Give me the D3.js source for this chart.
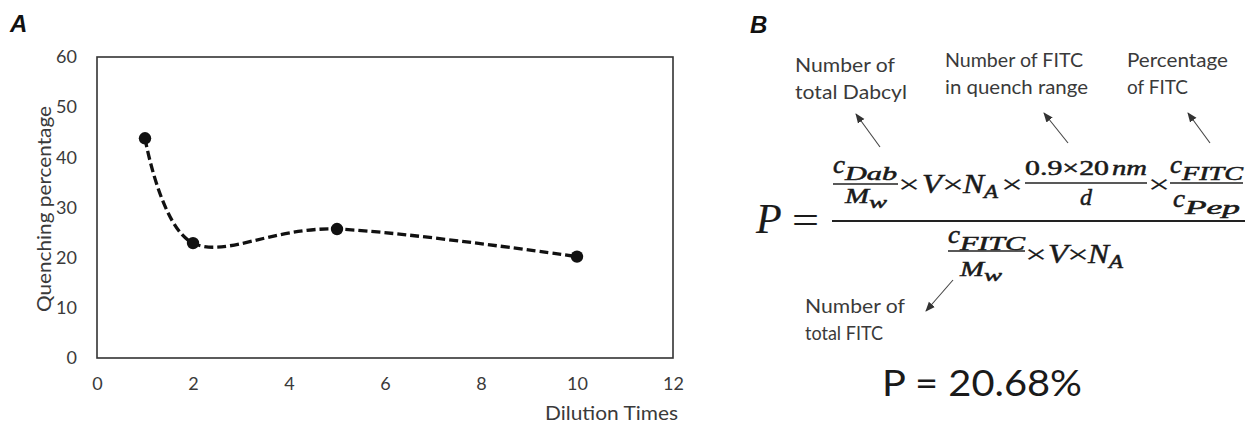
<!DOCTYPE html>
<html>
<head>
<meta charset="utf-8">
<script src="https://cdn.jsdelivr.net/npm/d3@7"></script>
<style>
  html, body { margin: 0; padding: 0; background: #fff; }
  svg { display: block; }
</style>
</head>
<body>
<svg id="chart" width="1253" height="429"></svg>
<script>
// ---- data ----
const dilutionTimes = [1, 2, 5, 10];
const quenchingPct = [43.8, 22.9, 25.7, 20.2];
const xTicks = [0, 2, 4, 6, 8, 10, 12];
const yTicks = [0, 10, 20, 30, 40, 50, 60];
const xTitle = "Dilution Times";
const yTitle = "Quenching percentage";
const resultText = "P = 20.68%";

const svg = d3.select("#chart");
const sansFont = "Lato, 'Open Sans', sans-serif";
const mathFont = "'Liberation Serif', 'DejaVu Serif', serif";
const textColor = "#3a3a3a";

// ---- panel A ----
const x = d3.scaleLinear().domain([0, 12]).range([97, 673]);
const y = d3.scaleLinear().domain([0, 60]).range([358, 57]);

svg.append("text").attr("x", 10).attr("y", 32)
  .attr("font-family", "'Liberation Sans', Arial, sans-serif")
  .attr("font-weight", "bold").attr("font-style", "italic")
  .attr("font-size", 24).attr("fill", "#111").text("A");

const gx = svg.append("g").attr("transform", `translate(0,${y(0)})`)
  .call(d3.axisBottom(x).tickValues(xTicks).tickSize(0).tickPadding(19).tickFormat(d3.format("d")));
const gy = svg.append("g").attr("transform", `translate(${x(0)},0)`)
  .call(d3.axisLeft(y).tickValues(yTicks).tickSize(0).tickPadding(20).tickFormat(d3.format("d")));
[gx, gy].forEach(g => {
  g.select(".domain").remove();
  g.selectAll("text").attr("font-family", sansFont).attr("font-size", 18).attr("fill", textColor);
});

svg.append("rect")
  .attr("x", x(0)).attr("y", y(60))
  .attr("width", x(12) - x(0)).attr("height", y(0) - y(60))
  .attr("fill", "none").attr("stroke", "#333").attr("stroke-width", 1.6);

svg.append("text").attr("x", 545).attr("y", 420)
  .attr("font-family", sansFont).attr("font-size", 19).attr("fill", textColor)
  .attr("textLength", 133).attr("lengthAdjust", "spacingAndGlyphs")
  .text(xTitle);

svg.append("text")
  .attr("transform", "translate(51,209) rotate(-90)")
  .attr("text-anchor", "middle")
  .attr("font-family", sansFont).attr("font-size", 19).attr("fill", textColor)
  .attr("textLength", 206).attr("lengthAdjust", "spacingAndGlyphs")
  .text(yTitle);

const pts = dilutionTimes.map((d, i) => [d, quenchingPct[i]]);
const line = d3.line().x(d => x(d[0])).y(d => y(d[1])).curve(d3.curveCatmullRom.alpha(0));
svg.append("path").datum(pts)
  .attr("d", line)
  .attr("fill", "none").attr("stroke", "#111").attr("stroke-width", 3.3)
  .attr("stroke-dasharray", "9,4");
svg.selectAll("circle.pt").data(pts).enter().append("circle")
  .attr("class", "pt")
  .attr("cx", d => x(d[0])).attr("cy", d => y(d[1])).attr("r", 6.2)
  .attr("fill", "#111");

// ---- panel B ----
svg.append("text").attr("x", 750).attr("y", 33)
  .attr("font-family", "'Liberation Sans', Arial, sans-serif")
  .attr("font-weight", "bold").attr("font-style", "italic")
  .attr("font-size", 24).attr("fill", "#111").text("B");

const defs = svg.append("defs");
defs.append("marker").attr("id", "ah")
  .attr("viewBox", "0 0 10 10").attr("refX", 9).attr("refY", 5)
  .attr("markerWidth", 9).attr("markerHeight", 9).attr("orient", "auto")
  .append("path").attr("d", "M0,1 L10,5 L0,9 Z").attr("fill", "#333");

const annotations = [
  { lines: ["Number of", "total Dabcyl"], x: 795, y: 72, w: [100, 112], arrow: [880, 147, 856, 114] },
  { lines: ["Number of FITC", "in quench range"], x: 945, y: 67, w: [138, 143], arrow: [1068, 143, 1044, 113] },
  { lines: ["Percentage", "of FITC"], x: 1127, y: 67, w: [101, 61], arrow: [1210, 143, 1188, 113] },
  { lines: ["Number of", "total FITC"], x: 805, y: 313, w: [100, 78], arrow: [953, 280, 926, 311] }
];
annotations.forEach(a => {
  a.lines.forEach((t, i) => {
    svg.append("text").attr("x", a.x).attr("y", a.y + i * 27)
      .attr("font-family", sansFont).attr("font-size", 19).attr("fill", textColor)
      .attr("textLength", a.w[i]).attr("lengthAdjust", "spacingAndGlyphs")
      .text(t);
  });
  svg.append("line")
    .attr("x1", a.arrow[0]).attr("y1", a.arrow[1]).attr("x2", a.arrow[2]).attr("y2", a.arrow[3])
    .attr("stroke", "#444").attr("stroke-width", 1.1).attr("marker-end", "url(#ah)");
});

// formula helpers
function mtext(xp, yp, size, str, opts = {}) {
  const t = svg.append("text").attr("x", xp).attr("y", yp)
    .attr("font-family", mathFont).attr("font-size", size)
    .attr("font-style", opts.upright ? "normal" : "italic")
    .attr("font-weight", "normal")
    .attr("fill", "#1a1a1a").attr("stroke", "#1a1a1a").attr("stroke-width", opts.sw === undefined ? 0.5 : opts.sw)
    .attr("text-anchor", opts.anchor || "start");
  if (opts.len) t.attr("textLength", opts.len).attr("lengthAdjust", "spacingAndGlyphs");
  t.text(str);
  return t;
}
function bar(x1, x2, yy, w) {
  svg.append("line").attr("x1", x1).attr("x2", x2).attr("y1", yy).attr("y2", yy)
    .attr("stroke", "#222").attr("stroke-width", w);
}
function cSub(xp, yp, sub, subLen) {
  mtext(xp, yp, 25, "c", { len: 12 });
  mtext(xp + 12, yp + 7, 18, sub, { len: subLen });
}

// P =
mtext(756, 233, 42, "P", { sw: 0.2 });
mtext(792, 234, 40, "=", { upright: true, sw: 0.2, len: 27 });
bar(832, 1245, 221, 2);

// numerator
cSub(833, 173, "Dab", 52);
bar(833, 898, 184, 1.5);
mtext(845, 203, 21, "M", { len: 24 });
mtext(869, 208, 17, "w", { len: 18 });
mtext(898, 193, 26, "×", { upright: true, sw: 0.2, len: 22 });
mtext(922, 193, 27, "V", { len: 20 });
mtext(942, 193, 26, "×", { upright: true, sw: 0.2, len: 22 });
mtext(963, 193, 27, "N", { len: 21 });
mtext(984, 198, 19, "A", { len: 14 });
mtext(1001, 193, 26, "×", { upright: true, sw: 0.2, len: 22 });
mtext(1025, 175, 21, "0.9×20 ", { upright: true, len: 84 });
mtext(1112, 175, 22, "nm", { len: 35 });
bar(1025, 1147, 183, 1.5);
mtext(1086, 205, 24, "d", { anchor: "middle" });
mtext(1148, 193, 26, "×", { upright: true, sw: 0.2, len: 22 });
cSub(1170, 173, "FITC", 61);
bar(1170, 1243, 183, 1.5);
cSub(1173, 207, "Pep", 55);

// denominator
cSub(948, 243, "FITC", 65);
bar(948, 1025, 251, 1.5);
mtext(960, 276, 21, "M", { len: 24 });
mtext(984, 281, 17, "w", { len: 18 });
mtext(1025, 263, 26, "×", { upright: true, sw: 0.2, len: 22 });
mtext(1048, 263, 27, "V", { len: 20 });
mtext(1067, 263, 26, "×", { upright: true, sw: 0.2, len: 22 });
mtext(1088, 263, 27, "N", { len: 21 });
mtext(1109, 268, 19, "A", { len: 14 });

// result
svg.append("text").attr("x", 882).attr("y", 396)
  .attr("font-family", sansFont).attr("font-size", 36).attr("fill", "#1a1a1a")
  .attr("textLength", 200).attr("lengthAdjust", "spacingAndGlyphs")
  .text(resultText);
</script>
</body>
</html>
